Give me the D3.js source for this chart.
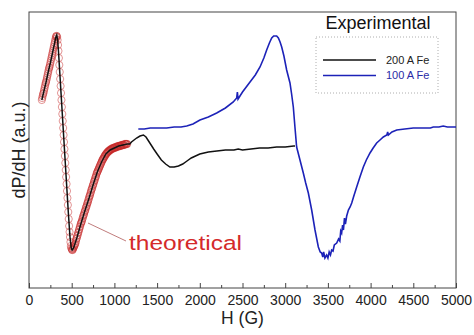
<!DOCTYPE html>
<html>
<head>
<meta charset="utf-8">
<script src="https://cdn.jsdelivr.net/npm/d3@7"></script>
<style>
  html, body { margin: 0; padding: 0; background: #fff; }
  svg { display: block; font-family: "Liberation Sans", Arial, sans-serif; }
</style>
</head>
<body>
<svg id="chart" width="474" height="335"></svg>
<script>
// Field axis ticks (Gauss)
const majorTicks = [0, 500, 1000, 1500, 2000, 2500, 3000, 3500, 4000, 4500, 5000];
const minorTicks = [250, 750, 1250, 1750, 2250, 2750, 3250, 3750, 4250, 4750];

// Theoretical fit, sampled every 5 G from 150 G to 1150 G (arbitrary units)
const theoStart = 150, theoStep = 5;
const theoValues = [
  188,190,192,194,195,197,199,201,203,205,
  206,208,210,212,214,216,218,220,221,223,
  225,227,229,231,233,235,237,239,241,243,
  245,247,249,251,252,252,251,248,243,237,
  230,223,216,209,202,195,188,181,174,167,
  160,153,146,139,132,125,118,111,104,97,
  90,83,76,69,62,56,51,46,42,40,
  39,38,38,39,40,41,42,43,44,45,
  47,49,50,52,53,55,56,58,59,61,
  62,64,65,66,67,69,70,72,73,74,
  76,77,78,80,81,82,84,85,86,88,
  89,91,92,93,95,96,98,99,100,102,
  103,104,106,107,108,110,111,112,114,115,
  116,117,118,119,120,121,122,123,124,125,
  126,127,128,129,129,130,131,132,132,133,
  134,134,135,135,136,136,137,137,137,138,
  138,138,139,139,139,139,140,140,140,140,
  140,140,141,141,141,141,141,141,142,142,
  142,142,142,142,142,142,143,143,143,143,
  143,143,143,143,144,144,144,144,144,144,
  144
];

// Experimental spectrum, 200 A Fe
const fe200H = [150,175,200,225,250,275,300,315,325,335,345,360,380,400,420,440,460,480,495,505,515,530,560,600,650,700,750,800,850,900,950,1000,1050,1100,1150,1180,1200,1230,1260,1300,1340,1370,1400,1430,1460,1500,1550,1600,1650,1700,1750,1800,1850,1900,1950,2000,2100,2200,2300,2400,2450,2500,2600,2700,2800,2900,3000,3100,3115];
const fe200V = [188,197,206,216,225,235,245,251,253,248,237,216,188,160,132,104,76,51,40,38,39,42,50,62,76,89,103,116,126,134,138,140,142,143,144,144,146,148,150,152,153,151,147,143,139,134,128,124,121,121,122,124,127,130,132,134,136,137,138,138,139,138,139,140,140,141,141,142,142];

// Experimental spectrum, 100 A Fe
const fe100H = [1280,1350,1420,1500,1612,1700,1780,1847,1920,2002,2100,2198,2300,2392,2432,2440,2448,2500,2588,2650,2705,2750,2783,2815,2842,2865,2881,2900,2920,2940,2959,2985,3017,3056,3075,3095,3115,3134,3173,3212,3240,3271,3310,3349,3388,3410,3427,3440,3450,3465,3485,3500,3515,3530,3544,3560,3575,3603,3625,3640,3650,3661,3672,3682,3694,3705,3720,3740,3760,3779,3800,3837,3875,3915,3950,3993,4030,4071,4110,4149,4190,4200,4208,4250,4306,4400,4500,4600,4700,4734,4800,4850,4900,4988,5000];
const fe100V = [159,159,160,160,160,161,161,162,164,168,171,175,180,186,190,196,189,196,206,213,221,230,238,245,250,252,252,252,250,246,241,232,218,205,194,181,160,141,128,115,105,95,78,58,41,36,35,31,36,30,33,30,36,33,38,37,43,45,49,47,57,55,63,58,70,64,72,78,81,85,91,101,111,121,128,135,140,145,148,151,153,156,153,156,158,159,160,160,160,161,161,162,161,161,161];

const legendItems = [
  { label: "200 A Fe", color: "#111111", text: "#222222" },
  { label: "100 A Fe", color: "#1c22b8", text: "#2a2aa6" }
];

const svg = d3.select("#chart");
const plotLeft = 29, plotRight = 456, plotTop = 12, plotBottom = 288;

const x = d3.scaleLinear().domain([0, 5000]).range([plotLeft, plotRight]);
const y = d3.scaleLinear().domain([0, 276]).range([plotBottom, plotTop]);

// Axis frame
svg.append("rect")
  .attr("x", plotLeft).attr("y", plotTop)
  .attr("width", plotRight - plotLeft).attr("height", plotBottom - plotTop)
  .attr("fill", "none").attr("stroke", "#444").attr("stroke-width", 1);

// Bottom axis: major ticks with labels, minor ticks without
const gMajor = svg.append("g").attr("transform", `translate(0,${plotBottom})`)
  .call(d3.axisBottom(x).tickValues(majorTicks).tickSize(-5).tickSizeOuter(0).tickPadding(7).tickFormat(d3.format("d")));
gMajor.select(".domain").remove();
gMajor.selectAll(".tick line").attr("stroke", "#444");
gMajor.selectAll(".tick text").attr("font-size", 14).attr("fill", "#222")
  .attr("font-family", "Liberation Sans, Arial, sans-serif");

const gMinor = svg.append("g").attr("transform", `translate(0,${plotBottom})`)
  .call(d3.axisBottom(x).tickValues(minorTicks).tickSize(-3).tickSizeOuter(0).tickFormat(""));
gMinor.select(".domain").remove();
gMinor.selectAll(".tick line").attr("stroke", "#444");

// Axis titles
svg.append("text")
  .attr("x", x(2500)).attr("y", 324)
  .attr("text-anchor", "middle").attr("font-size", 17.5).attr("fill", "#222")
  .text("H (G)");
svg.append("text")
  .attr("transform", `translate(25,${(plotTop + plotBottom) / 2}) rotate(-90)`)
  .attr("text-anchor", "middle").attr("font-size", 18).attr("fill", "#222")
  .text("dP/dH (a.u.)");

const line = d3.line().x(d => x(d[0])).y(d => y(d[1]));

// Theoretical fit as open circles
const theo = theoValues.map((v, i) => [theoStart + i * theoStep, v]);
svg.append("g").selectAll("circle").data(theo).join("circle")
  .attr("cx", d => x(d[0])).attr("cy", d => y(d[1])).attr("r", 3.6)
  .attr("fill", "none").attr("stroke", "#c62828").attr("stroke-opacity", 0.55).attr("stroke-width", 0.9);

// Experimental spectra
svg.append("path").datum(fe100H.map((h, i) => [h, fe100V[i]]))
  .attr("d", line).attr("fill", "none").attr("stroke", "#1c22b8").attr("stroke-width", 1.6);
svg.append("path").datum(fe200H.map((h, i) => [h, fe200V[i]]))
  .attr("d", line).attr("fill", "none").attr("stroke", "#111").attr("stroke-width", 1.5);

// Annotation for the fit
svg.append("line")
  .attr("x1", 88).attr("y1", 223).attr("x2", 126).attr("y2", 241)
  .attr("stroke", "#b05a5a").attr("stroke-width", 0.8);
svg.append("text")
  .attr("x", 129).attr("y", 250)
  .attr("font-size", 20.5).attr("fill", "#d42a2a")
  .attr("textLength", 113).attr("lengthAdjust", "spacingAndGlyphs")
  .text("theoretical");

// Legend
svg.append("text")
  .attr("x", 378).attr("y", 29)
  .attr("text-anchor", "middle").attr("font-size", 18).attr("fill", "#111")
  .text("Experimental");
svg.append("rect")
  .attr("x", 316).attr("y", 37).attr("width", 122).attr("height", 56)
  .attr("fill", "none").attr("stroke", "#999").attr("stroke-width", 0.8)
  .attr("stroke-dasharray", "1,2");
const lg = svg.append("g").selectAll("g").data(legendItems).join("g")
  .attr("transform", (d, i) => `translate(0,${60 + i * 15.5})`);
lg.append("line")
  .attr("x1", 323).attr("x2", 376).attr("y1", 0).attr("y2", 0)
  .attr("stroke", d => d.color).attr("stroke-width", 1.5);
lg.append("text")
  .attr("x", 386).attr("y", 3.8)
  .attr("font-size", 11).attr("fill", d => d.text)
  .text(d => d.label);
</script>
</body>
</html>
